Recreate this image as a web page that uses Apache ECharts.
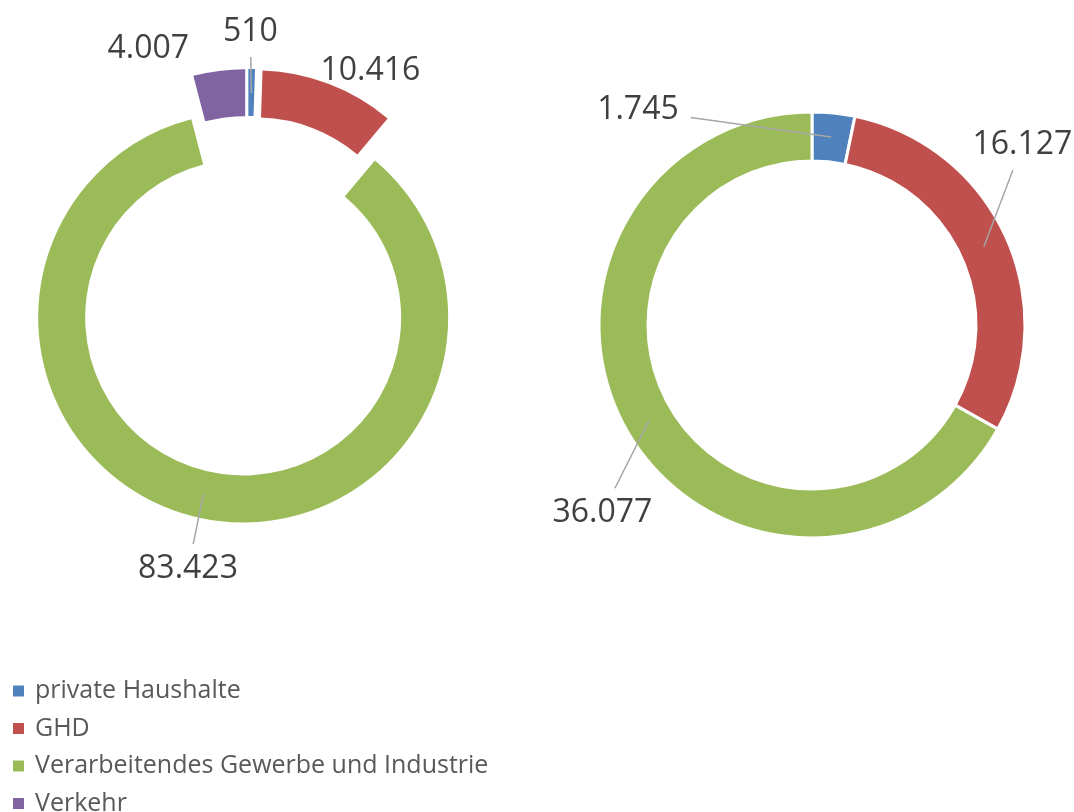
<!DOCTYPE html>
<html>
<head>
<meta charset="utf-8">
<script src="https://cdn.jsdelivr.net/npm/echarts@6/dist/echarts.min.js"></script>
<style>
html,body{margin:0;padding:0;background:#fff;}
#chart{width:1074px;height:812px;}
</style>
</head>
<body>
<div id="chart"></div>
<script>
// ---- data ----
const categories = ['private Haushalte', 'GHD', 'Verarbeitendes Gewerbe und Industrie', 'Verkehr'];
const leftValues = [510, 10416, 83423, 4007];
const rightValues = [1745, 16127, 36077, null];

// ---- style / layout ----
const colors = ['#4F81BD', '#C0504D', '#9BBB59', '#8064A2'];
const FONT = 'Open Sans';
const LEFT_CENTER = [248, 296];
const LEFT_RADIUS = [158, 205];
const EXPLODE = 22;
const RIGHT_CENTER = [812, 325];
const RIGHT_RADIUS = [164, 213];
// label placement tweaks relative to ECharts' default outside label position
const leftAdj = [
  { dx: -34, dy: -22, line: true, inset: 24, gap: 8 },
  { dx: -19, dy: 1, line: false },
  { dx: 48, dy: 37, line: true, inset: 24, gap: 8 },
  { dx: -23, dy: -7, line: false }
];
const rightAdj = [
  { dx: -243, dy: 12, line: true, inset: 24, gap: 12 },
  { dx: -52, dy: -85, line: true, inset: 24, gap: 8 },
  { dx: 42, dy: 73, line: true, inset: 24, gap: 8 }
];

function fmt(v) {
  return String(v).replace(/\B(?=(\d{3})+(?!\d))/g, '.');
}

function makeLayout(adj) {
  return function (p) {
    const a = adj[p.dataIndex];
    if (!a) return {};
    const r = p.labelRect;
    const x = r.x + a.dx, y = r.y + a.dy;
    const res = { x: x, y: y, align: 'left', verticalAlign: 'top' };
    const pts = p.labelLinePoints;
    if (a.line && pts && pts.length >= 2) {
      const ux = pts[1][0] - pts[0][0], uy = pts[1][1] - pts[0][1];
      const len = Math.hypot(ux, uy) || 1;
      const s = [pts[0][0] - ux / len * a.inset, pts[0][1] - uy / len * a.inset];
      const cxl = x + r.width / 2, cyl = y + r.height / 2;
      const g = a.gap;
      const L = x - g, R = x + r.width + g, T = y - g, B = y + r.height + g;
      const ddx = cxl - s[0], ddy = cyl - s[1];
      let tx = -Infinity, ty = -Infinity;
      if (ddx > 0) tx = (L - s[0]) / ddx; else if (ddx < 0) tx = (R - s[0]) / ddx;
      if (ddy > 0) ty = (T - s[1]) / ddy; else if (ddy < 0) ty = (B - s[1]) / ddy;
      let t = Math.max(tx, ty);
      t = Math.max(0, Math.min(1, t));
      const e = [s[0] + ddx * t, s[1] + ddy * t];
      res.labelLinePoints = [s, e];
    }
    return res;
  };
}

const labelStyle = {
  show: true, position: 'outside', formatter: p => fmt(p.value),
  fontFamily: FONT, fontSize: 32, color: '#404040', lineHeight: 34
};
const lineStyle = { color: '#A6A6A6', width: 1.5 };
const TRANSPARENT = 'rgba(0,0,0,0)';

// Build a pie series. 'labels' = true -> transparent overlay carrying labels + leader lines
// (drawn above all rings); otherwise the coloured ring without labels.
function pieSeries(opts, labels) {
  return {
    type: 'pie', center: opts.center, radius: opts.radius,
    startAngle: 90, clockwise: true, avoidLabelOverlap: false,
    z: labels ? 5 : 2, silent: true,
    emphasis: { disabled: true },
    label: Object.assign({}, labelStyle, { show: labels }),
    labelLine: { show: labels, length: 15, length2: 0, lineStyle: lineStyle },
    labelLayout: labels ? makeLayout(opts.adj) : undefined,
    data: opts.items.map((it, i) => ({
      name: it.name, value: it.value,
      itemStyle: labels || !it.visible
        ? { color: TRANSPARENT, borderWidth: 0 }
        : { color: colors[it.ci], borderColor: '#fff', borderWidth: opts.border },
      label: { show: labels && it.visible },
      labelLine: { show: labels && it.visible && opts.adj[i] && opts.adj[i].line }
    }))
  };
}

// Left donut: every slice exploded -> one pie per slice, shifted along its own
// mid-angle (computed from the values).
const leftTotal = leftValues.reduce((a, b) => a + (b || 0), 0);
let cum = 0;
const leftPies = categories.map((name, k) => {
  const v = leftValues[k];
  const mid = (cum + v / 2) / leftTotal * 2 * Math.PI;
  cum += v;
  return {
    center: [LEFT_CENTER[0] + EXPLODE * Math.sin(mid), LEFT_CENTER[1] - EXPLODE * Math.cos(mid)],
    radius: LEFT_RADIUS, adj: leftAdj, border: 0,
    items: categories.map((nm, i) => ({ name: nm, value: leftValues[i], ci: i, visible: i === k }))
  };
});
const rightPie = {
  center: RIGHT_CENTER, radius: RIGHT_RADIUS, adj: rightAdj, border: 3,
  items: categories.map((nm, i) => ({ name: nm, value: rightValues[i], ci: i, visible: true }))
    .filter(d => d.value != null)
};

const allPies = leftPies.concat([rightPie]);
const series = allPies.map(p => pieSeries(p, false)).concat(allPies.map(p => pieSeries(p, true)));

const chart = echarts.init(document.getElementById('chart'), null, { renderer: 'canvas' });
chart.setOption({
  animation: false,
  color: colors,
  legend: {
    orient: 'vertical', left: 8, top: 673, height: 200,
    data: categories.map((n, i) => ({ name: n, itemStyle: { color: colors[i] } })),
    icon: 'rect', itemWidth: 11, itemHeight: 11, itemGap: 11.5,
    selectedMode: false,
    textStyle: { fontFamily: FONT, fontSize: 25, color: '#595959', lineHeight: 26, padding: [0, 0, 0, 6] }
  },
  series: series
});
</script>
</body>
</html>
